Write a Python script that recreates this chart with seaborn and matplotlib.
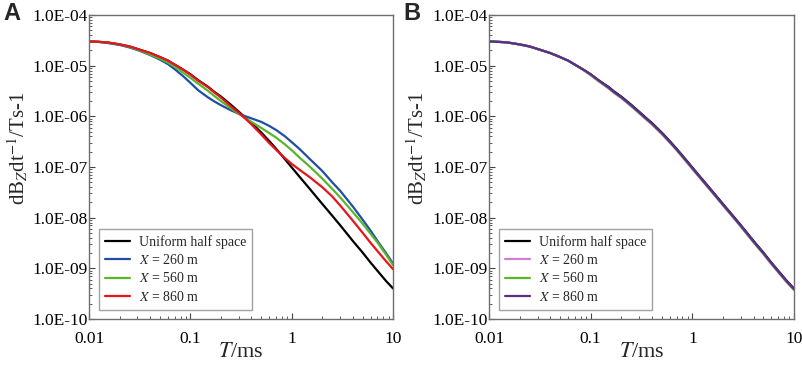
import numpy as np
import pandas as pd
import matplotlib
matplotlib.use("Agg")
import matplotlib.pyplot as plt
from matplotlib.ticker import FuncFormatter, LogLocator, NullFormatter
import seaborn as sns

# time channels (ms)
t_ms = [0.01, 0.0125, 0.015, 0.02, 0.025, 0.03, 0.04, 0.05, 0.06, 0.07, 0.085, 0.1,
        0.12, 0.15, 0.17, 0.2, 0.25, 0.3, 0.35, 0.4, 0.5, 0.6, 0.7, 0.85, 1,
        1.2, 1.5, 2, 2.5, 3, 4, 5, 6, 7, 8.5, 10]

# log10(dBz/dt)
uniform = [-4.52, -4.53, -4.54, -4.58, -4.62, -4.67, -4.75, -4.83, -4.90, -4.98, -5.08, -5.17,
           -5.29, -5.42, -5.51, -5.61, -5.77, -5.91, -6.03, -6.13, -6.32, -6.49, -6.64, -6.84, -7.01,
           -7.20, -7.43, -7.73, -7.96, -8.15, -8.46, -8.69, -8.89, -9.05, -9.25, -9.40]

# panel A
a_260 = [-4.52, -4.53, -4.55, -4.59, -4.64, -4.69, -4.79, -4.88, -4.97, -5.07, -5.21, -5.34,
         -5.49, -5.63, -5.70, -5.78, -5.88, -5.95, -6.00, -6.04, -6.11, -6.19, -6.27, -6.39, -6.51,
         -6.65, -6.84, -7.08, -7.30, -7.47, -7.78, -8.04, -8.26, -8.46, -8.70, -8.91]
a_560 = [-4.52, -4.53, -4.54, -4.58, -4.63, -4.68, -4.78, -4.86, -4.94, -5.02, -5.14, -5.24,
         -5.36, -5.50, -5.59, -5.70, -5.84, -5.95, -6.04, -6.11, -6.23, -6.33, -6.42, -6.55, -6.67,
         -6.82, -6.99, -7.23, -7.43, -7.60, -7.89, -8.12, -8.32, -8.49, -8.73, -8.94]
a_860 = [-4.52, -4.53, -4.54, -4.58, -4.62, -4.67, -4.75, -4.83, -4.90, -4.98, -5.08, -5.18,
         -5.30, -5.43, -5.52, -5.63, -5.80, -5.93, -6.05, -6.16, -6.36, -6.53, -6.66, -6.82, -6.94,
         -7.06, -7.20, -7.40, -7.58, -7.76, -8.06, -8.30, -8.50, -8.66, -8.86, -9.02]

# panel B
b_260 = [-4.52, -4.53, -4.54, -4.58, -4.62, -4.67, -4.75, -4.83, -4.90, -4.98, -5.09, -5.19,
         -5.31, -5.45, -5.54, -5.64, -5.80, -5.94, -6.06, -6.16, -6.35, -6.52, -6.67, -6.87, -7.04,
         -7.23, -7.46, -7.76, -7.99, -8.18, -8.49, -8.72, -8.92, -9.08, -9.28, -9.43]
b_560 = [-4.52, -4.53, -4.54, -4.58, -4.62, -4.67, -4.75, -4.83, -4.90, -4.98, -5.08, -5.18,
         -5.30, -5.44, -5.53, -5.63, -5.79, -5.93, -6.05, -6.15, -6.34, -6.51, -6.66, -6.86, -7.03,
         -7.22, -7.45, -7.75, -7.98, -8.17, -8.48, -8.71, -8.91, -9.07, -9.27, -9.42]
b_860 = [-4.52, -4.53, -4.54, -4.58, -4.62, -4.67, -4.75, -4.83, -4.90, -4.98, -5.08, -5.17,
         -5.29, -5.43, -5.52, -5.62, -5.78, -5.92, -6.04, -6.14, -6.33, -6.50, -6.65, -6.85, -7.02,
         -7.21, -7.44, -7.74, -7.97, -8.16, -8.47, -8.70, -8.90, -9.06, -9.26, -9.41]

labels = ["Uniform half space", "$X$ = 260 m", "$X$ = 560 m", "$X$ = 860 m"]
colors_a = ["#000000", "#1f4ea6", "#5bb52b", "#e8141c"]
colors_b = ["#000000", "#d27fd3", "#5bb52b", "#5a2d8c"]


def make_df(series):
    rows = []
    for lab, vals in zip(labels, series):
        for t, v in zip(t_ms, vals):
            rows.append({"T": t, "dBz": 10 ** v, "model": lab})
    return pd.DataFrame(rows)


sns.set_style("ticks")
plt.rcParams["font.family"] = ["Liberation Serif", "DejaVu Serif"]
plt.rcParams["mathtext.fontset"] = "stix"

fig = plt.figure(figsize=(8.03, 3.67), dpi=100)
ax_a = fig.add_axes([0.111, 0.131, 0.3786, 0.828])
ax_b = fig.add_axes([0.609, 0.131, 0.3798, 0.828])

for ax, series, cols, letter in [(ax_a, [uniform, a_260, a_560, a_860], colors_a, "A"),
                                 (ax_b, [uniform, b_260, b_560, b_860], colors_b, "B")]:
    df = make_df(series)
    sns.lineplot(data=df, x="T", y="dBz", hue="model", hue_order=labels,
                 palette=cols, ax=ax, linewidth=1.6, sort=False)
    ax.set_xscale("log")
    ax.set_yscale("log")
    ax.set_xlim(0.01, 10)
    ax.set_ylim(1e-10, 1e-4)
    ax.yaxis.set_major_locator(LogLocator(base=10, numticks=10))
    ax.yaxis.set_minor_locator(LogLocator(base=10, subs=np.arange(2, 10), numticks=10))
    ax.yaxis.set_minor_formatter(NullFormatter())
    ax.xaxis.set_minor_formatter(NullFormatter())
    ax.yaxis.set_major_formatter(FuncFormatter(lambda v, p: f"{v:.1E}"))
    ax.xaxis.set_major_formatter(FuncFormatter(lambda v, p: f"{v:g}"))
    ax.tick_params(which="both", direction="in", labelsize=12.5, colors="#444444",
                   labelcolor="black")
    ax.tick_params(axis="y", pad=1)
    ax.tick_params(axis="x", pad=9)
    ax.tick_params(which="major", length=4)
    ax.tick_params(which="minor", length=2.5)
    for sp in ax.spines.values():
        sp.set_color("#6e6e6e")
        sp.set_linewidth(1.0)
        sp.set_visible(True)
    ax.set_xlabel("$T$/ms", fontsize=16)
    ax.xaxis.set_label_coords(0.5, -0.08)
    ax.set_ylabel("dB$_Z$dt$^{-1}$/Ts-1", fontsize=15)
    ax.yaxis.set_label_coords(-0.195, 0.56)
    leg = ax.legend(loc="lower left", bbox_to_anchor=(0.033, 0.03), borderaxespad=0,
                    fontsize=10, frameon=True, fancybox=False, handlelength=1.8,
                    labelspacing=0.3, borderpad=0.45, handletextpad=0.6)
    leg.get_frame().set_edgecolor("#8a8a8a")
    leg.get_frame().set_linewidth(1.0)
    for line in leg.get_lines():
        line.set_linewidth(1.6)
    pos = ax.get_position()
    fig.text(pos.x0 - 0.107, 0.995, letter, fontsize=17, fontweight="bold",
             family="Liberation Sans", va="top", ha="left")

fig.savefig("out.png", dpi=100)
